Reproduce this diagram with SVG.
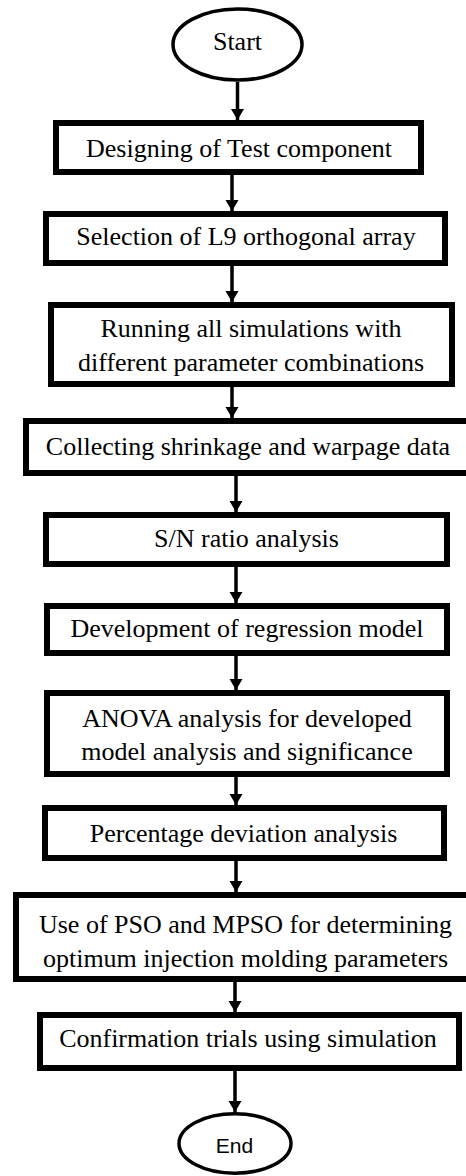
<svg xmlns="http://www.w3.org/2000/svg" width="466" height="1176" viewBox="0 0 466 1176">
<style>
.box{fill:#fff;stroke:#000;stroke-width:6}
.term{fill:#fff;stroke:#000;stroke-width:3.5}
.t{font-size:26px;fill:#000;text-anchor:middle}
.s{font-size:21px;fill:#000;text-anchor:middle}
.c{stroke:#000;stroke-width:3.5;fill:none;marker-end:url(#ah)}
</style>
<defs>
<marker id="ah" markerUnits="userSpaceOnUse" markerWidth="12" markerHeight="14" refX="11" refY="6.5" orient="auto" viewBox="0 0 12 13">
<path d="M0,0 L11,6.5 L0,13 z" fill="#000"/>
</marker>
</defs>
<rect width="466" height="1176" fill="#fff"/>
<g id="connectors">
<line class="c" x1="237.5" y1="82" x2="237.5" y2="120"/>
<line class="c" x1="232" y1="175" x2="232" y2="211"/>
<line class="c" x1="232" y1="266" x2="232" y2="302"/>
<line class="c" x1="232" y1="387" x2="232" y2="418"/>
<line class="c" x1="236" y1="476" x2="236" y2="512"/>
<line class="c" x1="236" y1="567" x2="236" y2="603"/>
<line class="c" x1="236" y1="656" x2="236" y2="690"/>
<line class="c" x1="236" y1="777" x2="236" y2="805"/>
<line class="c" x1="236" y1="861" x2="236" y2="892"/>
<line class="c" x1="235" y1="982" x2="235" y2="1012"/>
<line class="c" x1="235" y1="1071" x2="235" y2="1112"/>
</g>
<g font-family="'Liberation Serif', 'Times New Roman', 'DejaVu Serif', serif">
<g id="start">
<ellipse class="term" cx="237.5" cy="44.5" rx="64.5" ry="35.5"/>
<text class="t" x="237.5" y="50">Start</text>
</g>
<g id="n1">
<rect class="box" x="56" y="123" width="365" height="49"/>
<text class="t" x="239" y="157">Designing of Test component</text>
</g>
<g id="n2">
<rect class="box" x="46" y="214" width="399" height="49"/>
<text class="t" x="246" y="245">Selection of L9 orthogonal array</text>
</g>
<g id="n3">
<rect class="box" x="51" y="305" width="401" height="79"/>
<text class="t" x="251" y="337">Running all simulations with</text>
<text class="t" x="251" y="371">different parameter combinations</text>
</g>
<g id="n4">
<rect class="box" x="26" y="421" width="445" height="52"/>
<text class="t" x="248" y="455">Collecting shrinkage and warpage data</text>
</g>
<g id="n5">
<rect class="box" x="46" y="515" width="401" height="49"/>
<text class="t" x="246.5" y="547">S/N ratio analysis</text>
</g>
<g id="n6">
<rect class="box" x="47" y="606" width="400" height="47"/>
<text class="t" x="247" y="637">Development of regression model</text>
</g>
<g id="n7">
<rect class="box" x="47" y="693" width="400" height="81"/>
<text class="t" x="247" y="727">ANOVA analysis for developed</text>
<text class="t" x="247" y="760">model analysis and significance</text>
</g>
<g id="n8">
<rect class="box" x="45" y="808" width="399" height="50"/>
<text class="t" x="243.5" y="842">Percentage deviation analysis</text>
</g>
<g id="n9">
<rect class="box" x="16" y="895" width="455" height="84"/>
<text class="t" x="245.5" y="933">Use of PSO and MPSO for determining</text>
<text class="t" x="245.5" y="967">optimum injection molding parameters</text>
</g>
<g id="n10">
<rect class="box" x="40" y="1015" width="419" height="53"/>
<text class="t" x="248" y="1047">Confirmation trials using simulation</text>
</g>
</g>
<g id="end">
<ellipse class="term" cx="235" cy="1143.5" rx="56" ry="29.7"/>
<text class="s" x="234.5" y="1153" font-family="'Liberation Sans', Arial, sans-serif">End</text>
</g>
</svg>
